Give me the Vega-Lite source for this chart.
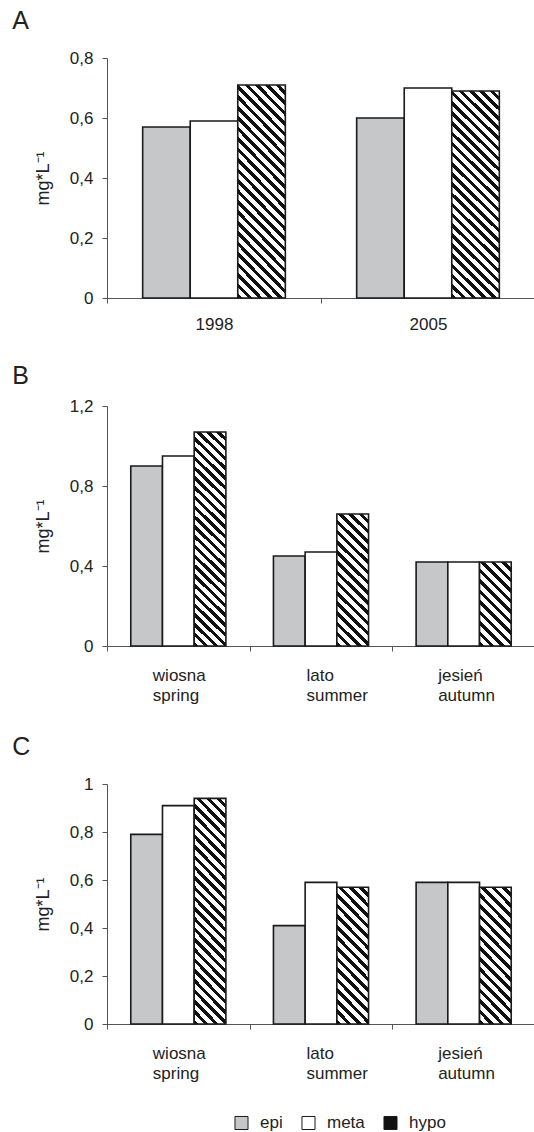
{
"$schema": "https://vega.github.io/schema/vega-lite/v6.json",
"padding": {"left": 12, "top": 9, "right": 0, "bottom": 0},
"background": "white",
"datasets": {
"rows": [
{"panel": "A", "cat": "1998", "layer": "epi", "value": 0.57},
{"panel": "A", "cat": "1998", "layer": "meta", "value": 0.59},
{"panel": "A", "cat": "1998", "layer": "hypo", "value": 0.71},
{"panel": "A", "cat": "2005", "layer": "epi", "value": 0.60},
{"panel": "A", "cat": "2005", "layer": "meta", "value": 0.70},
{"panel": "A", "cat": "2005", "layer": "hypo", "value": 0.69},
{"panel": "B", "cat": "wiosna spring", "layer": "epi", "value": 0.90},
{"panel": "B", "cat": "wiosna spring", "layer": "meta", "value": 0.95},
{"panel": "B", "cat": "wiosna spring", "layer": "hypo", "value": 1.07},
{"panel": "B", "cat": "lato summer", "layer": "epi", "value": 0.45},
{"panel": "B", "cat": "lato summer", "layer": "meta", "value": 0.47},
{"panel": "B", "cat": "lato summer", "layer": "hypo", "value": 0.66},
{"panel": "B", "cat": "jesień autumn", "layer": "epi", "value": 0.42},
{"panel": "B", "cat": "jesień autumn", "layer": "meta", "value": 0.42},
{"panel": "B", "cat": "jesień autumn", "layer": "hypo", "value": 0.42},
{"panel": "C", "cat": "wiosna spring", "layer": "epi", "value": 0.79},
{"panel": "C", "cat": "wiosna spring", "layer": "meta", "value": 0.91},
{"panel": "C", "cat": "wiosna spring", "layer": "hypo", "value": 0.94},
{"panel": "C", "cat": "lato summer", "layer": "epi", "value": 0.41},
{"panel": "C", "cat": "lato summer", "layer": "meta", "value": 0.59},
{"panel": "C", "cat": "lato summer", "layer": "hypo", "value": 0.57},
{"panel": "C", "cat": "jesień autumn", "layer": "epi", "value": 0.59},
{"panel": "C", "cat": "jesień autumn", "layer": "meta", "value": 0.59},
{"panel": "C", "cat": "jesień autumn", "layer": "hypo", "value": 0.57}
]
},
"config": {
"font": "Liberation Sans",
"view": {"stroke": null},
"axis": {"labelFont": "Liberation Sans", "labelFontSize": 17, "labelColor": "#222", "titleFont": "Liberation Sans", "titleFontSize": 18, "titleFontWeight": "normal", "titleColor": "#222", "domainColor": "#555", "tickColor": "#555", "grid": false, "tickSize": 5},
"title": {"font": "Liberation Sans", "fontSize": 25, "fontWeight": "normal", "color": "#222", "anchor": "start", "frame": "bounds"},
"legend": {"labelFont": "Liberation Sans", "labelFontSize": 17, "labelColor": "#222"}
},
"spacing": 32,
"resolve": {"scale": {"x": "independent", "y": "independent", "xOffset": "independent", "fill": "shared"}, "legend": {"fill": "shared"}},
"vconcat": [
{
"title": {"text": "A", "dx": -22, "offset": 15},
"width": 428, "height": 240,
"data": {"name": "rows"},
"transform": [{"filter": "datum.panel == 'A'"}],
"mark": {"type": "bar", "stroke": "#1a1a1a", "strokeWidth": 1.6},
"encoding": {
"x": {"field": "cat", "type": "nominal", "sort": null, "scale": {"paddingInner": 0, "paddingOuter": 0}, "axis": {"title": null, "labelAngle": 0, "tickBand": "extent", "labelPadding": 13}},
"xOffset": {"field": "layer", "type": "nominal", "scale": {"domain": ["epi", "meta", "hypo"], "paddingInner": 0, "paddingOuter": 0.75}},
"y": {"field": "value", "type": "quantitative", "scale": {"domain": [0, 0.8], "nice": false}, "axis": {"title": "mg*L⁻¹", "values": [0, 0.2, 0.4, 0.6, 0.8], "labelExpr": "replace(toString(datum.value), '.', ',')", "labelPadding": 9, "titlePadding": 17}},
"fill": {"field": "layer", "type": "nominal", "scale": {"domain": ["epi", "meta", "hypo"], "range": ["#c6c7c9", "#ffffff", "#111111"]},
"legend": {"title": null, "orient": "none", "direction": "horizontal", "legendX": 126, "legendY": 1056, "symbolType": "square", "symbolSize": 170, "symbolStrokeColor": "#111", "symbolStrokeWidth": 1, "labelOffset": 10, "columnPadding": 16},
"condition": [{"test": "datum.layer == 'hypo'", "value": {"gradient": "linear", "x1": 0, "y1": 1, "x2": 0.2651, "y2": -0.167, "stops": [
{"offset":0,"color":"#111"},{"offset":0.018,"color":"#111"},{"offset":0.018,"color":"#fff"},{"offset":0.04,"color":"#fff"},
{"offset":0.04,"color":"#111"},{"offset":0.058,"color":"#111"},{"offset":0.058,"color":"#fff"},{"offset":0.08,"color":"#fff"},
{"offset":0.08,"color":"#111"},{"offset":0.098,"color":"#111"},{"offset":0.098,"color":"#fff"},{"offset":0.12,"color":"#fff"},
{"offset":0.12,"color":"#111"},{"offset":0.138,"color":"#111"},{"offset":0.138,"color":"#fff"},{"offset":0.16,"color":"#fff"},
{"offset":0.16,"color":"#111"},{"offset":0.178,"color":"#111"},{"offset":0.178,"color":"#fff"},{"offset":0.2,"color":"#fff"},
{"offset":0.2,"color":"#111"},{"offset":0.218,"color":"#111"},{"offset":0.218,"color":"#fff"},{"offset":0.24,"color":"#fff"},
{"offset":0.24,"color":"#111"},{"offset":0.258,"color":"#111"},{"offset":0.258,"color":"#fff"},{"offset":0.28,"color":"#fff"},
{"offset":0.28,"color":"#111"},{"offset":0.298,"color":"#111"},{"offset":0.298,"color":"#fff"},{"offset":0.32,"color":"#fff"},
{"offset":0.32,"color":"#111"},{"offset":0.338,"color":"#111"},{"offset":0.338,"color":"#fff"},{"offset":0.36,"color":"#fff"},
{"offset":0.36,"color":"#111"},{"offset":0.378,"color":"#111"},{"offset":0.378,"color":"#fff"},{"offset":0.4,"color":"#fff"},
{"offset":0.4,"color":"#111"},{"offset":0.418,"color":"#111"},{"offset":0.418,"color":"#fff"},{"offset":0.44,"color":"#fff"},
{"offset":0.44,"color":"#111"},{"offset":0.458,"color":"#111"},{"offset":0.458,"color":"#fff"},{"offset":0.48,"color":"#fff"},
{"offset":0.48,"color":"#111"},{"offset":0.498,"color":"#111"},{"offset":0.498,"color":"#fff"},{"offset":0.52,"color":"#fff"},
{"offset":0.52,"color":"#111"},{"offset":0.538,"color":"#111"},{"offset":0.538,"color":"#fff"},{"offset":0.56,"color":"#fff"},
{"offset":0.56,"color":"#111"},{"offset":0.578,"color":"#111"},{"offset":0.578,"color":"#fff"},{"offset":0.6,"color":"#fff"},
{"offset":0.6,"color":"#111"},{"offset":0.618,"color":"#111"},{"offset":0.618,"color":"#fff"},{"offset":0.64,"color":"#fff"},
{"offset":0.64,"color":"#111"},{"offset":0.658,"color":"#111"},{"offset":0.658,"color":"#fff"},{"offset":0.68,"color":"#fff"},
{"offset":0.68,"color":"#111"},{"offset":0.698,"color":"#111"},{"offset":0.698,"color":"#fff"},{"offset":0.72,"color":"#fff"},
{"offset":0.72,"color":"#111"},{"offset":0.738,"color":"#111"},{"offset":0.738,"color":"#fff"},{"offset":0.76,"color":"#fff"},
{"offset":0.76,"color":"#111"},{"offset":0.778,"color":"#111"},{"offset":0.778,"color":"#fff"},{"offset":0.8,"color":"#fff"},
{"offset":0.8,"color":"#111"},{"offset":0.818,"color":"#111"},{"offset":0.818,"color":"#fff"},{"offset":0.84,"color":"#fff"},
{"offset":0.84,"color":"#111"},{"offset":0.858,"color":"#111"},{"offset":0.858,"color":"#fff"},{"offset":0.88,"color":"#fff"},
{"offset":0.88,"color":"#111"},{"offset":0.898,"color":"#111"},{"offset":0.898,"color":"#fff"},{"offset":0.92,"color":"#fff"},
{"offset":0.92,"color":"#111"},{"offset":0.938,"color":"#111"},{"offset":0.938,"color":"#fff"},{"offset":0.96,"color":"#fff"},
{"offset":0.96,"color":"#111"},{"offset":0.978,"color":"#111"},{"offset":0.978,"color":"#fff"},{"offset":1,"color":"#fff"}
]}}]
}
}
},
{
"title": {"text": "B", "dx": -22, "offset": 8},
"width": 428, "height": 240,
"data": {"name": "rows"},
"transform": [{"filter": "datum.panel == 'B'"}],
"mark": {"type": "bar", "stroke": "#1a1a1a", "strokeWidth": 1.6},
"encoding": {
"x": {"field": "cat", "type": "nominal", "sort": null, "scale": {"paddingInner": 0, "paddingOuter": 0}, "axis": {"title": null, "labelAngle": 0, "tickBand": "extent", "labelPadding": 16, "labelExpr": "split(datum.label, ' ')", "labelLineHeight": 20, "labelAlign": "left", "labelOffset": {"condition": {"test": "datum.value == 'lato summer'", "value": -15}, "value": -26}}},
"xOffset": {"field": "layer", "type": "nominal", "scale": {"domain": ["epi", "meta", "hypo"], "paddingInner": 0, "paddingOuter": 0.75}},
"y": {"field": "value", "type": "quantitative", "scale": {"domain": [0, 1.2], "nice": false}, "axis": {"title": "mg*L⁻¹", "values": [0, 0.4, 0.8, 1.2], "labelExpr": "replace(toString(datum.value), '.', ',')", "labelPadding": 9, "titlePadding": 17}},
"fill": {"field": "layer", "type": "nominal", "scale": {"domain": ["epi", "meta", "hypo"], "range": ["#c6c7c9", "#ffffff", "#111111"]},
"condition": [
{"test": "datum.layer == 'hypo' && datum.value > 0.9", "value": {"gradient": "linear", "x1": 0, "y1": 1, "x2": 0.1615, "y2": -0.1209, "stops": [
{"offset":0,"color":"#111"},{"offset":0.018,"color":"#111"},{"offset":0.018,"color":"#fff"},{"offset":0.04,"color":"#fff"},
{"offset":0.04,"color":"#111"},{"offset":0.058,"color":"#111"},{"offset":0.058,"color":"#fff"},{"offset":0.08,"color":"#fff"},
{"offset":0.08,"color":"#111"},{"offset":0.098,"color":"#111"},{"offset":0.098,"color":"#fff"},{"offset":0.12,"color":"#fff"},
{"offset":0.12,"color":"#111"},{"offset":0.138,"color":"#111"},{"offset":0.138,"color":"#fff"},{"offset":0.16,"color":"#fff"},
{"offset":0.16,"color":"#111"},{"offset":0.178,"color":"#111"},{"offset":0.178,"color":"#fff"},{"offset":0.2,"color":"#fff"},
{"offset":0.2,"color":"#111"},{"offset":0.218,"color":"#111"},{"offset":0.218,"color":"#fff"},{"offset":0.24,"color":"#fff"},
{"offset":0.24,"color":"#111"},{"offset":0.258,"color":"#111"},{"offset":0.258,"color":"#fff"},{"offset":0.28,"color":"#fff"},
{"offset":0.28,"color":"#111"},{"offset":0.298,"color":"#111"},{"offset":0.298,"color":"#fff"},{"offset":0.32,"color":"#fff"},
{"offset":0.32,"color":"#111"},{"offset":0.338,"color":"#111"},{"offset":0.338,"color":"#fff"},{"offset":0.36,"color":"#fff"},
{"offset":0.36,"color":"#111"},{"offset":0.378,"color":"#111"},{"offset":0.378,"color":"#fff"},{"offset":0.4,"color":"#fff"},
{"offset":0.4,"color":"#111"},{"offset":0.418,"color":"#111"},{"offset":0.418,"color":"#fff"},{"offset":0.44,"color":"#fff"},
{"offset":0.44,"color":"#111"},{"offset":0.458,"color":"#111"},{"offset":0.458,"color":"#fff"},{"offset":0.48,"color":"#fff"},
{"offset":0.48,"color":"#111"},{"offset":0.498,"color":"#111"},{"offset":0.498,"color":"#fff"},{"offset":0.52,"color":"#fff"},
{"offset":0.52,"color":"#111"},{"offset":0.538,"color":"#111"},{"offset":0.538,"color":"#fff"},{"offset":0.56,"color":"#fff"},
{"offset":0.56,"color":"#111"},{"offset":0.578,"color":"#111"},{"offset":0.578,"color":"#fff"},{"offset":0.6,"color":"#fff"},
{"offset":0.6,"color":"#111"},{"offset":0.618,"color":"#111"},{"offset":0.618,"color":"#fff"},{"offset":0.64,"color":"#fff"},
{"offset":0.64,"color":"#111"},{"offset":0.658,"color":"#111"},{"offset":0.658,"color":"#fff"},{"offset":0.68,"color":"#fff"},
{"offset":0.68,"color":"#111"},{"offset":0.698,"color":"#111"},{"offset":0.698,"color":"#fff"},{"offset":0.72,"color":"#fff"},
{"offset":0.72,"color":"#111"},{"offset":0.738,"color":"#111"},{"offset":0.738,"color":"#fff"},{"offset":0.76,"color":"#fff"},
{"offset":0.76,"color":"#111"},{"offset":0.778,"color":"#111"},{"offset":0.778,"color":"#fff"},{"offset":0.8,"color":"#fff"},
{"offset":0.8,"color":"#111"},{"offset":0.818,"color":"#111"},{"offset":0.818,"color":"#fff"},{"offset":0.84,"color":"#fff"},
{"offset":0.84,"color":"#111"},{"offset":0.858,"color":"#111"},{"offset":0.858,"color":"#fff"},{"offset":0.88,"color":"#fff"},
{"offset":0.88,"color":"#111"},{"offset":0.898,"color":"#111"},{"offset":0.898,"color":"#fff"},{"offset":0.92,"color":"#fff"},
{"offset":0.92,"color":"#111"},{"offset":0.938,"color":"#111"},{"offset":0.938,"color":"#fff"},{"offset":0.96,"color":"#fff"},
{"offset":0.96,"color":"#111"},{"offset":0.978,"color":"#111"},{"offset":0.978,"color":"#fff"},{"offset":1,"color":"#fff"}
]}},
{"test": "datum.layer == 'hypo' && datum.value > 0.5", "value": {"gradient": "linear", "x1": 0, "y1": 1, "x2": 0.277, "y2": -0.171, "stops": [
{"offset":0,"color":"#111"},{"offset":0.028,"color":"#111"},{"offset":0.028,"color":"#fff"},{"offset":0.0625,"color":"#fff"},
{"offset":0.0625,"color":"#111"},{"offset":0.0905,"color":"#111"},{"offset":0.0905,"color":"#fff"},{"offset":0.125,"color":"#fff"},
{"offset":0.125,"color":"#111"},{"offset":0.153,"color":"#111"},{"offset":0.153,"color":"#fff"},{"offset":0.1875,"color":"#fff"},
{"offset":0.1875,"color":"#111"},{"offset":0.2155,"color":"#111"},{"offset":0.2155,"color":"#fff"},{"offset":0.25,"color":"#fff"},
{"offset":0.25,"color":"#111"},{"offset":0.278,"color":"#111"},{"offset":0.278,"color":"#fff"},{"offset":0.3125,"color":"#fff"},
{"offset":0.3125,"color":"#111"},{"offset":0.3405,"color":"#111"},{"offset":0.3405,"color":"#fff"},{"offset":0.375,"color":"#fff"},
{"offset":0.375,"color":"#111"},{"offset":0.403,"color":"#111"},{"offset":0.403,"color":"#fff"},{"offset":0.4375,"color":"#fff"},
{"offset":0.4375,"color":"#111"},{"offset":0.4655,"color":"#111"},{"offset":0.4655,"color":"#fff"},{"offset":0.5,"color":"#fff"},
{"offset":0.5,"color":"#111"},{"offset":0.528,"color":"#111"},{"offset":0.528,"color":"#fff"},{"offset":0.5625,"color":"#fff"},
{"offset":0.5625,"color":"#111"},{"offset":0.5905,"color":"#111"},{"offset":0.5905,"color":"#fff"},{"offset":0.625,"color":"#fff"},
{"offset":0.625,"color":"#111"},{"offset":0.653,"color":"#111"},{"offset":0.653,"color":"#fff"},{"offset":0.6875,"color":"#fff"},
{"offset":0.6875,"color":"#111"},{"offset":0.7155,"color":"#111"},{"offset":0.7155,"color":"#fff"},{"offset":0.75,"color":"#fff"},
{"offset":0.75,"color":"#111"},{"offset":0.778,"color":"#111"},{"offset":0.778,"color":"#fff"},{"offset":0.8125,"color":"#fff"},
{"offset":0.8125,"color":"#111"},{"offset":0.8405,"color":"#111"},{"offset":0.8405,"color":"#fff"},{"offset":0.875,"color":"#fff"},
{"offset":0.875,"color":"#111"},{"offset":0.903,"color":"#111"},{"offset":0.903,"color":"#fff"},{"offset":0.9375,"color":"#fff"},
{"offset":0.9375,"color":"#111"},{"offset":0.9655,"color":"#111"},{"offset":0.9655,"color":"#fff"},{"offset":1,"color":"#fff"}
]}},
{"test": "datum.layer == 'hypo'", "value": {"gradient": "linear", "x1": 0, "y1": 1, "x2": 0.455, "y2": -0.2057, "stops": [
{"offset":0,"color":"#111"},{"offset":0.0409,"color":"#111"},{"offset":0.0409,"color":"#fff"},{"offset":0.0909,"color":"#fff"},
{"offset":0.0909,"color":"#111"},{"offset":0.1318,"color":"#111"},{"offset":0.1318,"color":"#fff"},{"offset":0.1818,"color":"#fff"},
{"offset":0.1818,"color":"#111"},{"offset":0.2227,"color":"#111"},{"offset":0.2227,"color":"#fff"},{"offset":0.2727,"color":"#fff"},
{"offset":0.2727,"color":"#111"},{"offset":0.3136,"color":"#111"},{"offset":0.3136,"color":"#fff"},{"offset":0.3636,"color":"#fff"},
{"offset":0.3636,"color":"#111"},{"offset":0.4045,"color":"#111"},{"offset":0.4045,"color":"#fff"},{"offset":0.4545,"color":"#fff"},
{"offset":0.4545,"color":"#111"},{"offset":0.4955,"color":"#111"},{"offset":0.4955,"color":"#fff"},{"offset":0.5455,"color":"#fff"},
{"offset":0.5455,"color":"#111"},{"offset":0.5864,"color":"#111"},{"offset":0.5864,"color":"#fff"},{"offset":0.6364,"color":"#fff"},
{"offset":0.6364,"color":"#111"},{"offset":0.6773,"color":"#111"},{"offset":0.6773,"color":"#fff"},{"offset":0.7273,"color":"#fff"},
{"offset":0.7273,"color":"#111"},{"offset":0.7682,"color":"#111"},{"offset":0.7682,"color":"#fff"},{"offset":0.8182,"color":"#fff"},
{"offset":0.8182,"color":"#111"},{"offset":0.8591,"color":"#111"},{"offset":0.8591,"color":"#fff"},{"offset":0.9091,"color":"#fff"},
{"offset":0.9091,"color":"#111"},{"offset":0.95,"color":"#111"},{"offset":0.95,"color":"#fff"},{"offset":1,"color":"#fff"}
]}}
]
}
}
},
{
"title": {"text": "C", "dx": -22, "offset": 19, "dy": 4},
"width": 428, "height": 240,
"data": {"name": "rows"},
"transform": [{"filter": "datum.panel == 'C'"}],
"mark": {"type": "bar", "stroke": "#1a1a1a", "strokeWidth": 1.6},
"encoding": {
"x": {"field": "cat", "type": "nominal", "sort": null, "scale": {"paddingInner": 0, "paddingOuter": 0}, "axis": {"title": null, "labelAngle": 0, "tickBand": "extent", "labelPadding": 16, "labelExpr": "split(datum.label, ' ')", "labelLineHeight": 20, "labelAlign": "left", "labelOffset": {"condition": {"test": "datum.value == 'lato summer'", "value": -15}, "value": -26}}},
"xOffset": {"field": "layer", "type": "nominal", "scale": {"domain": ["epi", "meta", "hypo"], "paddingInner": 0, "paddingOuter": 0.75}},
"y": {"field": "value", "type": "quantitative", "scale": {"domain": [0, 1], "nice": false}, "axis": {"title": "mg*L⁻¹", "values": [0, 0.2, 0.4, 0.6, 0.8, 1], "labelExpr": "replace(toString(datum.value), '.', ',')", "labelPadding": 9, "titlePadding": 17}},
"fill": {"field": "layer", "type": "nominal", "scale": {"domain": ["epi", "meta", "hypo"], "range": ["#c6c7c9", "#ffffff", "#111111"]},
"condition": [
{"test": "datum.layer == 'hypo' && datum.value > 0.9", "value": {"gradient": "linear", "x1": 0, "y1": 1, "x2": 0.1615, "y2": -0.1209, "stops": [
{"offset":0,"color":"#111"},{"offset":0.018,"color":"#111"},{"offset":0.018,"color":"#fff"},{"offset":0.04,"color":"#fff"},
{"offset":0.04,"color":"#111"},{"offset":0.058,"color":"#111"},{"offset":0.058,"color":"#fff"},{"offset":0.08,"color":"#fff"},
{"offset":0.08,"color":"#111"},{"offset":0.098,"color":"#111"},{"offset":0.098,"color":"#fff"},{"offset":0.12,"color":"#fff"},
{"offset":0.12,"color":"#111"},{"offset":0.138,"color":"#111"},{"offset":0.138,"color":"#fff"},{"offset":0.16,"color":"#fff"},
{"offset":0.16,"color":"#111"},{"offset":0.178,"color":"#111"},{"offset":0.178,"color":"#fff"},{"offset":0.2,"color":"#fff"},
{"offset":0.2,"color":"#111"},{"offset":0.218,"color":"#111"},{"offset":0.218,"color":"#fff"},{"offset":0.24,"color":"#fff"},
{"offset":0.24,"color":"#111"},{"offset":0.258,"color":"#111"},{"offset":0.258,"color":"#fff"},{"offset":0.28,"color":"#fff"},
{"offset":0.28,"color":"#111"},{"offset":0.298,"color":"#111"},{"offset":0.298,"color":"#fff"},{"offset":0.32,"color":"#fff"},
{"offset":0.32,"color":"#111"},{"offset":0.338,"color":"#111"},{"offset":0.338,"color":"#fff"},{"offset":0.36,"color":"#fff"},
{"offset":0.36,"color":"#111"},{"offset":0.378,"color":"#111"},{"offset":0.378,"color":"#fff"},{"offset":0.4,"color":"#fff"},
{"offset":0.4,"color":"#111"},{"offset":0.418,"color":"#111"},{"offset":0.418,"color":"#fff"},{"offset":0.44,"color":"#fff"},
{"offset":0.44,"color":"#111"},{"offset":0.458,"color":"#111"},{"offset":0.458,"color":"#fff"},{"offset":0.48,"color":"#fff"},
{"offset":0.48,"color":"#111"},{"offset":0.498,"color":"#111"},{"offset":0.498,"color":"#fff"},{"offset":0.52,"color":"#fff"},
{"offset":0.52,"color":"#111"},{"offset":0.538,"color":"#111"},{"offset":0.538,"color":"#fff"},{"offset":0.56,"color":"#fff"},
{"offset":0.56,"color":"#111"},{"offset":0.578,"color":"#111"},{"offset":0.578,"color":"#fff"},{"offset":0.6,"color":"#fff"},
{"offset":0.6,"color":"#111"},{"offset":0.618,"color":"#111"},{"offset":0.618,"color":"#fff"},{"offset":0.64,"color":"#fff"},
{"offset":0.64,"color":"#111"},{"offset":0.658,"color":"#111"},{"offset":0.658,"color":"#fff"},{"offset":0.68,"color":"#fff"},
{"offset":0.68,"color":"#111"},{"offset":0.698,"color":"#111"},{"offset":0.698,"color":"#fff"},{"offset":0.72,"color":"#fff"},
{"offset":0.72,"color":"#111"},{"offset":0.738,"color":"#111"},{"offset":0.738,"color":"#fff"},{"offset":0.76,"color":"#fff"},
{"offset":0.76,"color":"#111"},{"offset":0.778,"color":"#111"},{"offset":0.778,"color":"#fff"},{"offset":0.8,"color":"#fff"},
{"offset":0.8,"color":"#111"},{"offset":0.818,"color":"#111"},{"offset":0.818,"color":"#fff"},{"offset":0.84,"color":"#fff"},
{"offset":0.84,"color":"#111"},{"offset":0.858,"color":"#111"},{"offset":0.858,"color":"#fff"},{"offset":0.88,"color":"#fff"},
{"offset":0.88,"color":"#111"},{"offset":0.898,"color":"#111"},{"offset":0.898,"color":"#fff"},{"offset":0.92,"color":"#fff"},
{"offset":0.92,"color":"#111"},{"offset":0.938,"color":"#111"},{"offset":0.938,"color":"#fff"},{"offset":0.96,"color":"#fff"},
{"offset":0.96,"color":"#111"},{"offset":0.978,"color":"#111"},{"offset":0.978,"color":"#fff"},{"offset":1,"color":"#fff"}
]}},
{"test": "datum.layer == 'hypo'", "value": {"gradient": "linear", "x1": 0, "y1": 1, "x2": 0.277, "y2": -0.171, "stops": [
{"offset":0,"color":"#111"},{"offset":0.028,"color":"#111"},{"offset":0.028,"color":"#fff"},{"offset":0.0625,"color":"#fff"},
{"offset":0.0625,"color":"#111"},{"offset":0.0905,"color":"#111"},{"offset":0.0905,"color":"#fff"},{"offset":0.125,"color":"#fff"},
{"offset":0.125,"color":"#111"},{"offset":0.153,"color":"#111"},{"offset":0.153,"color":"#fff"},{"offset":0.1875,"color":"#fff"},
{"offset":0.1875,"color":"#111"},{"offset":0.2155,"color":"#111"},{"offset":0.2155,"color":"#fff"},{"offset":0.25,"color":"#fff"},
{"offset":0.25,"color":"#111"},{"offset":0.278,"color":"#111"},{"offset":0.278,"color":"#fff"},{"offset":0.3125,"color":"#fff"},
{"offset":0.3125,"color":"#111"},{"offset":0.3405,"color":"#111"},{"offset":0.3405,"color":"#fff"},{"offset":0.375,"color":"#fff"},
{"offset":0.375,"color":"#111"},{"offset":0.403,"color":"#111"},{"offset":0.403,"color":"#fff"},{"offset":0.4375,"color":"#fff"},
{"offset":0.4375,"color":"#111"},{"offset":0.4655,"color":"#111"},{"offset":0.4655,"color":"#fff"},{"offset":0.5,"color":"#fff"},
{"offset":0.5,"color":"#111"},{"offset":0.528,"color":"#111"},{"offset":0.528,"color":"#fff"},{"offset":0.5625,"color":"#fff"},
{"offset":0.5625,"color":"#111"},{"offset":0.5905,"color":"#111"},{"offset":0.5905,"color":"#fff"},{"offset":0.625,"color":"#fff"},
{"offset":0.625,"color":"#111"},{"offset":0.653,"color":"#111"},{"offset":0.653,"color":"#fff"},{"offset":0.6875,"color":"#fff"},
{"offset":0.6875,"color":"#111"},{"offset":0.7155,"color":"#111"},{"offset":0.7155,"color":"#fff"},{"offset":0.75,"color":"#fff"},
{"offset":0.75,"color":"#111"},{"offset":0.778,"color":"#111"},{"offset":0.778,"color":"#fff"},{"offset":0.8125,"color":"#fff"},
{"offset":0.8125,"color":"#111"},{"offset":0.8405,"color":"#111"},{"offset":0.8405,"color":"#fff"},{"offset":0.875,"color":"#fff"},
{"offset":0.875,"color":"#111"},{"offset":0.903,"color":"#111"},{"offset":0.903,"color":"#fff"},{"offset":0.9375,"color":"#fff"},
{"offset":0.9375,"color":"#111"},{"offset":0.9655,"color":"#111"},{"offset":0.9655,"color":"#fff"},{"offset":1,"color":"#fff"}
]}}
]
}
}
}
]
}
